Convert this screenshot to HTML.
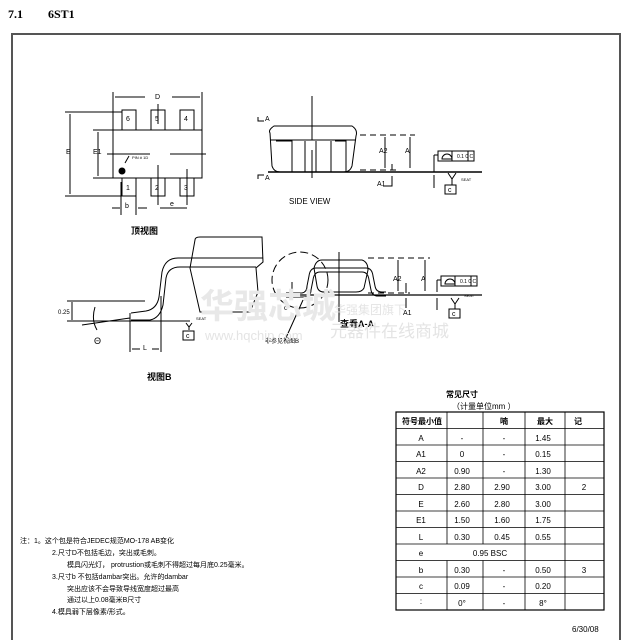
<!DOCTYPE html>
<html><head><meta charset="utf-8"><style>
body{margin:0;background:#fff;width:630px;height:640px;overflow:hidden}
svg{display:block;font-family:"Liberation Sans","Noto Sans CJK SC",sans-serif}
</style></head><body>
<svg width="630" height="640" viewBox="0 0 630 640" xmlns="http://www.w3.org/2000/svg">
<text x="8" y="18" font-family="Liberation Serif,serif" font-weight="bold" font-size="12">7.1</text>
<text x="48" y="18" font-family="Liberation Serif,serif" font-weight="bold" font-size="12">6ST1</text>
<path d="M12,640 V34 H620 V640" fill="none" stroke="#555" stroke-width="2"/>
<g stroke="#000" stroke-width="1" fill="none">
<!-- top view -->
<rect x="113" y="130" width="89" height="48"/>
<rect x="122" y="110" width="14" height="20"/><rect x="151" y="110" width="14" height="20"/><rect x="180" y="110" width="14" height="20"/>
<rect x="122" y="178" width="14" height="18"/><rect x="151" y="178" width="14" height="18"/><rect x="180" y="178" width="14" height="18"/>
<path d="M113,92 V130 M202,92 V130 M115,97 H145 M172,97 H200 M65,112 H122 M65,196 H122 M70,114 V194 M93,130 H113 M93,178 H113 M98,132 V176 M107,154 H150 M170,154 H206 M158,104 V124 M158,165 V205 M187,169 V205 M121,182 V215 M136,182 V215 M112,208 H120 M138,208 H147 M160,208 H187 M129,156 L125,163"/>
<!-- side view -->
<path d="M270,133 Q268,130 274,126 H352 Q358,130 356,136 L352,166 Q350,172 344,172 H280 Q274,172 272,166 Z M270,140 H356"/>
<path d="M276,141 H292 V172 M305,141 V172 M316,141 V172 H331 M331,141 V172 M335,141 H346 V172 M312,130 V128 M312,96 V140 M312,150 V178"/>
<path d="M268,172 H482" stroke-width="1.5"/>
<path d="M360,135 H415 M360,170 H400" stroke-dasharray="6,4"/>
<path d="M385,137 V168 M410,137 V168 M392,176 V186 H383 M392,164 V170 M434,155 V172 M434,175 V188 M434,155 H438 M448,173 L452,179 L456,173 M452,179 V185"/>
<rect x="438" y="151" width="36" height="10"/><path d="M442,159 A5,5 0 0 1 452,159 Z"/><path d="M452,151 V161 M468,151 V161"/>
<rect x="445" y="185" width="11" height="9"/>
<path d="M258,117 V121 H264 M258,179 V175 H264"/>
<!-- view B -->
<path d="M195,240 Q195,237 200,237 H262 L263,262 L256,268 L258,292 L250,312 H200 L190,268 Z"/>
<path d="M131,313 L146,311 Q157,309 159,297 L162,272 Q165,258 178,258 H263 M131,320 L150,320 Q160,318 163,305 L166,278 Q168,267 180,267 H256"/>
<path d="M67,321 H190 M67,301 H145 M72,302 V320 M130,313 V352 M161,296 V352 M132,349 H140 M152,349 H159 M82,325 L130,318 M95,307 Q91,320 97,330 M186,323 L189,327 L192,323 M189,327 V330"/>
<rect x="183" y="331" width="11" height="9"/>
<!-- section A-A -->
<path d="M322,260 H362 Q368,262 368,270 L364,288 Q362,292 356,292 H324 Q318,292 317,286 L314,268 Q316,260 322,260 Z"/>
<path d="M286,293 H302 Q307,292 307,286 L309,276 Q310,268 316,268 H366 Q372,268 373,276 L375,286 Q376,292 382,292 H386 M286,297 H305 Q311,296 311,290 L313,280 Q314,272 320,272 H362 Q368,272 369,280 L371,290 Q372,296 378,296 H386"/>
<path d="M284,295 H482" stroke-width="1.2"/>
<path d="M339,252 V322"/>
<path d="M368,258 H430 M368,293 H410" stroke-dasharray="6,4"/>
<path d="M398,260 V291 M425,260 V291 M406,283 V293 M406,298 V308 M437,280 V292 M437,298 V310 M437,280 H441 M451,298 L455,304 L459,298 M455,304 V309"/>
<circle cx="300" cy="280" r="28" stroke-dasharray="8,4"/>
<path d="M292,282 V293 M303,300 L285,340"/>
<rect x="441" y="276" width="36" height="10"/><path d="M445,284 A5,5 0 0 1 455,284 Z"/><path d="M455,276 V286 M471,276 V286"/>
<rect x="449" y="309" width="11" height="9"/>
</g>
<g fill="#000" font-size="7">
<circle cx="122" cy="171" r="3.5"/>
<text x="155" y="99" font-size="7">D</text>
<text x="66" y="154">E</text><text x="93" y="154">E1</text>
<text x="126" y="121">6</text><text x="155" y="121">5</text><text x="184" y="121">4</text>
<text x="126" y="190">1</text><text x="155" y="190">2</text><text x="184" y="190">3</text>
<text x="125" y="208">b</text><text x="170" y="206">e</text>
<text x="132" y="159" font-size="4">PIN # 1D</text>
<text x="131" y="234" font-size="9" font-weight="bold">顶视图</text>
<text x="265" y="121">A</text><text x="265" y="180">A</text>
<text x="379" y="153">A2</text><text x="405" y="153">A</text><text x="377" y="186">A1</text>
<text x="457" y="158" font-size="5">0.1 0 C</text><text x="461" y="181" font-size="4">SEAT</text>
<text x="448" y="192">c</text>
<text x="289" y="204" font-size="8">SIDE VIEW</text>
<text x="58" y="314" font-size="6">0.25</text>
<text x="94" y="344" font-size="9">Θ</text><text x="143" y="350">L</text>
<text x="186" y="338">c</text><text x="196" y="320" font-size="4">SEAT</text>
<text x="147" y="380" font-size="9" font-weight="bold">视图B</text>
<text x="393" y="281">A2</text><text x="421" y="281">A</text><text x="403" y="315">A1</text>
<text x="460" y="283" font-size="5">0.1 0 C</text><text x="464" y="297" font-size="4">SEAT</text>
<text x="452" y="316">c</text><text x="284" y="310">c</text>
<text x="340" y="327" font-size="9" font-weight="bold">查看A-A</text>
<text x="265" y="343" font-size="6">非参见视图B</text>
</g>
<text x="200" y="318" font-size="34" fill="#e8e8e8" font-weight="bold">华强芯城</text>
<text x="205" y="340" font-size="13" fill="#e4e4e4">www.hqchip.com</text>
<text x="334" y="314" font-size="12" fill="#e4e4e4">华强集团旗下</text>
<text x="330" y="337" font-size="17" fill="#e4e4e4">元器件在线商城</text>
<!-- table -->
<g font-size="8" fill="#000">
<text x="446" y="397" font-weight="bold">常见尺寸</text>
<text x="452" y="409">（计量单位mm ）</text>
</g>
<g stroke="#000" stroke-width="0.8" fill="none">
<rect x="396" y="412" width="208" height="198" stroke-width="1.2"/>
<path d="M396,428.5 H604 M396,445 H604 M396,461.5 H604 M396,478 H604 M396,494.5 H604 M396,511 H604 M396,527.5 H604 M396,544 H604 M396,560.5 H604 M396,577 H604 M396,593.5 H604"/>
<path d="M447,412 V544 M447,560.5 V610 M483,412 V544 M483,560.5 V610 M525,412 V610 M565,412 V610"/>
</g>
<g font-size="8" fill="#000" text-anchor="middle">
<text x="422" y="424" font-weight="bold">符号最小值</text><text x="504" y="424" font-weight="bold">喃</text><text x="545" y="424" font-weight="bold">最大</text><text x="578" y="424" font-weight="bold">记</text>
<text x="421" y="441">A</text><text x="462" y="441">-</text><text x="504" y="441">-</text><text x="543" y="441">1.45</text>
<text x="421" y="457">A1</text><text x="462" y="457">0</text><text x="504" y="457">-</text><text x="543" y="457">0.15</text>
<text x="421" y="474">A2</text><text x="462" y="474">0.90</text><text x="504" y="474">-</text><text x="543" y="474">1.30</text>
<text x="421" y="490">D</text><text x="462" y="490">2.80</text><text x="502" y="490">2.90</text><text x="543" y="490">3.00</text><text x="584" y="490">2</text>
<text x="421" y="507">E</text><text x="462" y="507">2.60</text><text x="502" y="507">2.80</text><text x="543" y="507">3.00</text>
<text x="421" y="523">E1</text><text x="462" y="523">1.50</text><text x="502" y="523">1.60</text><text x="543" y="523">1.75</text>
<text x="421" y="540">L</text><text x="462" y="540">0.30</text><text x="502" y="540">0.45</text><text x="543" y="540">0.55</text>
<text x="421" y="556">e</text><text x="490" y="556">0.95 BSC</text>
<text x="421" y="573">b</text><text x="462" y="573">0.30</text><text x="504" y="573">-</text><text x="543" y="573">0.50</text><text x="584" y="573">3</text>
<text x="421" y="589">c</text><text x="462" y="589">0.09</text><text x="504" y="589">-</text><text x="543" y="589">0.20</text>
<text x="421" y="604">:</text><text x="462" y="606">0°</text><text x="504" y="606">-</text><text x="543" y="606">8°</text>
</g>
<g font-size="7" fill="#000">
<text x="20" y="543">注：1。这个包是符合JEDEC规范MO-178 AB变化</text>
<text x="52" y="555">2.尺寸D不包括毛边，突出或毛刺。</text>
<text x="67" y="567">模具闪光灯，  protrustion或毛刺不得超过每月底0.25毫米。</text>
<text x="52" y="579">3.尺寸b 不包括dambar突出。允许的dambar</text>
<text x="67" y="591">突出应该不会导致导线宽度超过最高</text>
<text x="67" y="602">通过以上0.08毫米B尺寸</text>
<text x="52" y="614">4.模具弱下层像素/形式。</text>
<text x="572" y="632" font-size="8">6/30/08</text>
</g>
</svg>
</body></html>
